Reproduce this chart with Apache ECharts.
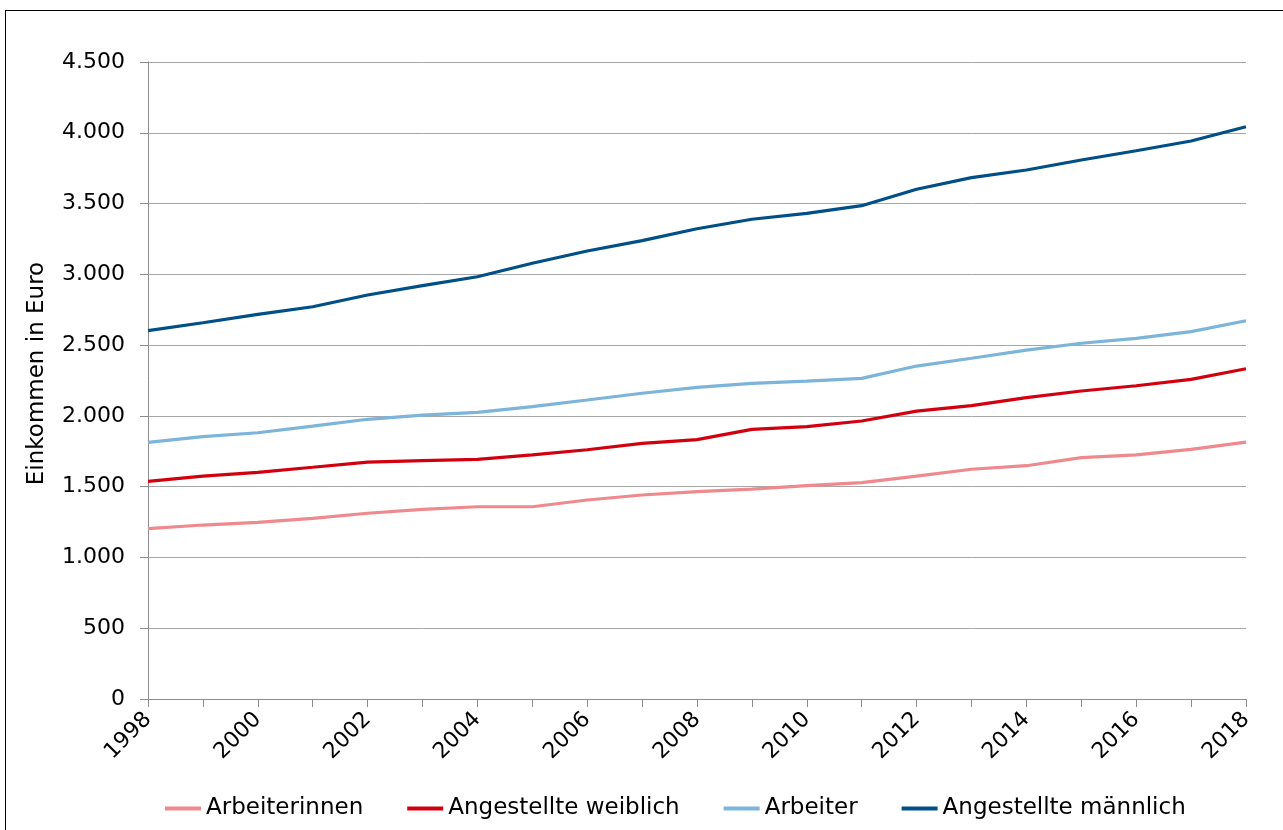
<!DOCTYPE html>
<html>
<head>
<meta charset="utf-8" />
<style>
  html, body { margin: 0; padding: 0; background: #fff; }
  #frame { position: absolute; left: 5px; top: 10px; width: 1300px; height: 850px; border: 1px solid #000; box-sizing: border-box; }
  #main { position: absolute; left: 0; top: 0; width: 1283px; height: 830px; }
</style>
</head>
<body>
<div id="frame"></div>
<div id="main"></div>
<script src="https://cdn.jsdelivr.net/npm/echarts@6/dist/echarts.min.js"></script>
<script>
var years = ['1998','1999','2000','2001','2002','2003','2004','2005','2006','2007','2008',
             '2009','2010','2011','2012','2013','2014','2015','2016','2017','2018'];

var arbeiterinnen = [1203, 1229, 1248, 1276, 1312, 1340, 1358, 1358, 1406, 1441, 1465,
                     1483, 1507, 1528, 1575, 1623, 1648, 1705, 1724, 1764, 1815];
var angestellteW = [1538, 1575, 1601, 1637, 1674, 1684, 1693, 1724, 1761, 1806, 1832,
                    1905, 1924, 1964, 2034, 2072, 2129, 2176, 2213, 2258, 2333];
var arbeiter = [1813, 1853, 1881, 1928, 1976, 2006, 2025, 2065, 2112, 2160, 2202,
                2230, 2246, 2265, 2352, 2407, 2465, 2513, 2548, 2595, 2672];
var angestellteM = [2602, 2658, 2717, 2771, 2854, 2920, 2983, 3078, 3165, 3238, 3322,
                    3389, 3431, 3485, 3601, 3683, 3737, 3808, 3873, 3942, 4043];

var seriesNames = ['Arbeiterinnen', 'Angestellte weiblich', 'Arbeiter', 'Angestellte männlich'];
var colors = ['#ee8a8e', '#d2000f', '#7db4da', '#004f86'];

var font = 'DejaVu Sans';

var chart = echarts.init(document.getElementById('main'));

function fmt(v) {
  return String(v).replace(/\B(?=(\d{3})+(?!\d))/g, '.');
}

function line(name, data, color) {
  return {
    name: name,
    type: 'line',
    data: data,
    symbol: 'none',
    lineStyle: { color: color, width: 3.2 },
    itemStyle: { color: color }
  };
}

chart.setOption({
  animation: false,
  color: colors,
  grid: { left: 148, right: 37, top: 62, bottom: 131 },
  legend: {
    left: 160,
    bottom: 5,
    icon: 'rect',
    itemWidth: 36,
    itemHeight: 4,
    itemGap: 44,
    textStyle: { fontFamily: font, fontSize: 23, color: '#000' },
    data: seriesNames
  },
  xAxis: {
    type: 'category',
    data: years,
    boundaryGap: false,
    axisLine: { lineStyle: { color: '#8c8c8c', width: 1 } },
    axisTick: { show: true, length: 8, interval: 0, lineStyle: { color: '#8c8c8c' } },
    axisLabel: {
      interval: 1,
      rotate: 45,
      margin: 17,
      fontFamily: font,
      fontSize: 22,
      color: '#000'
    },
    splitLine: { show: false }
  },
  yAxis: {
    type: 'value',
    min: 0,
    max: 4500,
    interval: 500,
    name: 'Einkommen in Euro',
    nameLocation: 'middle',
    nameGap: 99,
    nameTextStyle: { fontFamily: font, fontSize: 23, color: '#000', padding: [0, 0, 0, 14] },
    axisLine: { show: true, lineStyle: { color: '#8c8c8c', width: 1 } },
    axisTick: { show: true, length: 8, lineStyle: { color: '#8c8c8c' } },
    axisLabel: {
      fontFamily: font,
      fontSize: 22,
      color: '#000',
      margin: 23,
      formatter: fmt
    },
    splitLine: { lineStyle: { color: '#a6a6a6', width: 1 } }
  },
  series: [
    line(seriesNames[0], arbeiterinnen, colors[0]),
    line(seriesNames[1], angestellteW, colors[1]),
    line(seriesNames[2], arbeiter, colors[2]),
    line(seriesNames[3], angestellteM, colors[3])
  ]
});
</script>
</body>
</html>
